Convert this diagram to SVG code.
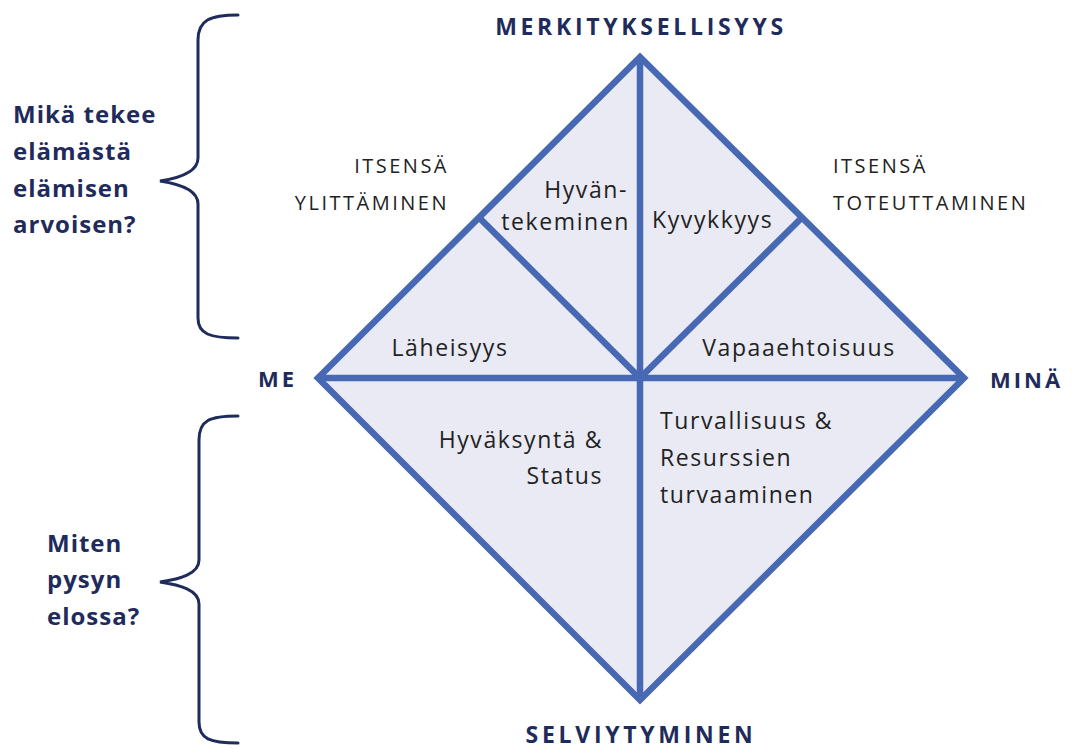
<svg xmlns="http://www.w3.org/2000/svg" width="1072" height="749" viewBox="0 0 1072 749">
<style>
.reg{fill:#e9eaf4;stroke:none}
.ln{stroke:#4768b3;stroke-width:6.5;fill:none;stroke-linejoin:miter;stroke-linecap:butt}
.br{stroke:#1f2b5b;stroke-width:3;fill:none;stroke-linecap:round}
.q{font-family:"Open Sans","Noto Sans",sans-serif;font-weight:bold;font-size:24px;fill:#1f2b5b;letter-spacing:1px}
.ax{font-family:"Open Sans","Noto Sans",sans-serif;font-weight:bold;font-size:23px;fill:#1f2b5b;letter-spacing:3.7px}
.ax2{font-family:"Open Sans","Noto Sans",sans-serif;font-weight:bold;font-size:22px;fill:#1f2b5b;letter-spacing:3px}
.sub{font-family:"Open Sans","Noto Sans",sans-serif;font-size:20px;fill:#222;letter-spacing:2.5px}
.in{font-family:"Open Sans","Noto Sans",sans-serif;font-size:23px;fill:#222;letter-spacing:1.6px}
</style>
<rect width="1072" height="749" fill="#ffffff"/>
<g id="region-laheisyys"><polygon class="reg" points="318,378 479,217.5 640,378"/><text class="in" x="450" y="356" text-anchor="middle">Läheisyys</text></g>
<g id="region-hyvantekeminen"><polygon class="reg" points="479,217.5 640,57 640,378"/><text class="in" text-anchor="end"><tspan x="628" y="198">Hyvän-</tspan><tspan x="630" y="230">tekeminen</tspan></text></g>
<g id="region-kyvykkyys"><polygon class="reg" points="640,57 802,217.5 640,378"/><text class="in" x="652" y="228">Kyvykkyys</text></g>
<g id="region-vapaaehtoisuus"><polygon class="reg" points="802,217.5 964,378 640,378"/><text class="in" x="799" y="356" text-anchor="middle">Vapaaehtoisuus</text></g>
<g id="region-hyvaksynta"><polygon class="reg" points="318,378 640,378 640,700"/><text class="in" text-anchor="end"><tspan x="603" y="448">Hyväksyntä &amp;</tspan><tspan x="603" y="484">Status</tspan></text></g>
<g id="region-turvallisuus"><polygon class="reg" points="640,378 964,378 640,700"/><text class="in"><tspan x="660" y="429">Turvallisuus &amp;</tspan><tspan x="660" y="466">Resurssien</tspan><tspan x="660" y="503">turvaaminen</tspan></text></g>
<g id="connectors">
<polygon class="ln" points="640,57 964,378 640,700 318,378"/>
<line class="ln" x1="318" y1="378" x2="964" y2="378"/>
<line class="ln" x1="640" y1="57" x2="640" y2="700"/>
<line class="ln" x1="479" y1="217.5" x2="640" y2="378"/>
<line class="ln" x1="802" y1="217.5" x2="640" y2="378"/>
</g>
<g id="label-top"><text class="ax" x="641" y="35" text-anchor="middle">MERKITYKSELLISYYS</text></g>
<g id="label-bottom"><text class="ax" x="641" y="743" text-anchor="middle">SELVIYTYMINEN</text></g>
<g id="label-me"><text class="ax2" x="258" y="387">ME</text></g>
<g id="label-mina"><text class="ax2" x="990" y="388">MINÄ</text></g>
<g id="label-ylittaminen"><text class="sub" text-anchor="end"><tspan x="449" y="173">ITSENSÄ</tspan><tspan x="449" y="210">YLITTÄMINEN</tspan></text></g>
<g id="label-toteuttaminen"><text class="sub"><tspan x="833" y="173">ITSENSÄ</tspan><tspan x="833" y="210">TOTEUTTAMINEN</tspan></text></g>
<g id="brace-upper"><path class="br" d="M238,15 C210,15 198,20 198,40 L198,158 C198,172 180,178 160,181 C180,184 198,190 198,204 L198,318 C198,334 210,338 238,338"/><text class="q"><tspan x="13" y="123">Mikä tekee</tspan><tspan x="13" y="160">elämästä</tspan><tspan x="13" y="197">elämisen</tspan><tspan x="13" y="233">arvoisen?</tspan></text></g>
<g id="brace-lower"><path class="br" d="M238,416 C210,416 199,420 199,440 L199,560 C199,574 180,579 160,582 C180,585 199,590 199,604 L199,722 C199,739 210,743 238,743"/><text class="q"><tspan x="47" y="552">Miten</tspan><tspan x="47" y="588">pysyn</tspan><tspan x="47" y="625">elossa?</tspan></text></g>
</svg>
